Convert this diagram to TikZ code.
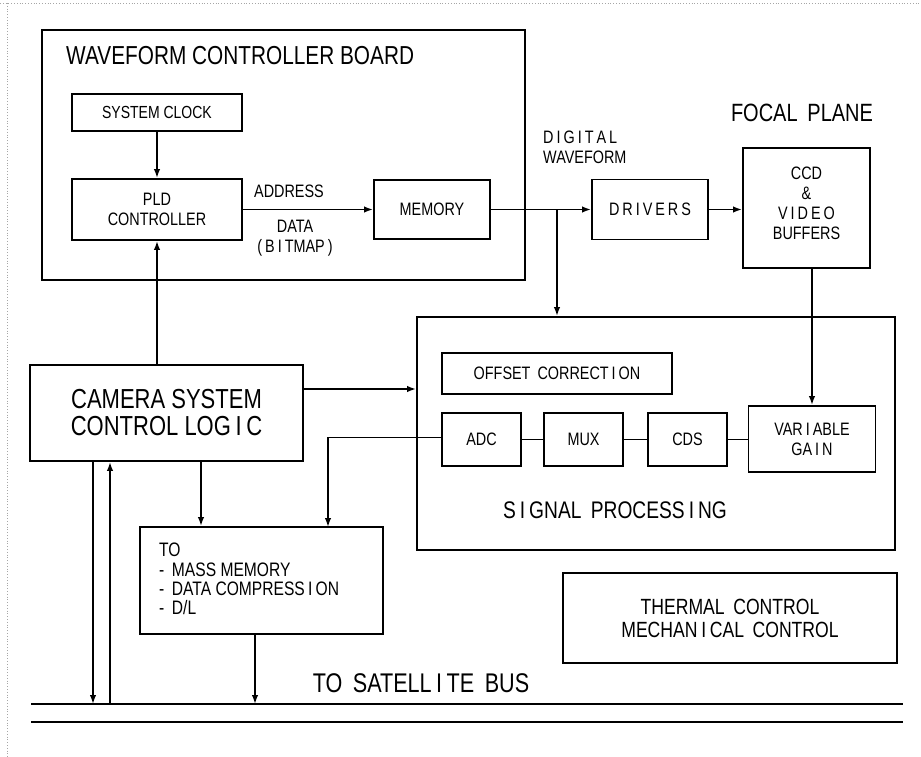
\documentclass[tikz,border=0pt]{standalone}
\usepackage{fontspec}
\setmainfont{Liberation Sans}[FakeStretch=0.8]
\usetikzlibrary{arrows.meta}
\begin{document}
\begin{tikzpicture}[x=1pt,y=-1pt,
  box/.style={draw, line width=1.9pt, inner sep=0pt, align=center, font=\fontsize{18}{20}\selectfont},
  lbl/.style={inner sep=0pt, font=\fontsize{18}{20}\selectfont},
  conn/.style={line width=1.7pt},
  arr/.style={conn, -{Latex[length=9pt,width=6.5pt]}},
  frame/.style={gray!70, dotted, line width=0.8pt}]
\useasboundingbox (0,0) rectangle (921,757);
% scan frame
\draw[frame] (0,3) -- (921,3);
\draw[frame] (7,3) -- (7,757);

% waveform controller board
\node[box, minimum width=483pt, minimum height=250pt] (board) at (283.5,155) {};
\node[lbl, anchor=west, font=\fontsize{26}{28}\selectfont] (boardt) at (66,56) {WAVEFORM CONTROLLER BOARD};
\node[box, minimum width=170pt, minimum height=37pt, font=\fontsize{17.5}{19}\selectfont] (clock) at (157,112.5) {SYSTEM CLOCK};
\node[box, minimum width=170pt, minimum height=61pt] (pld) at (157,209.5) {PLD\\CONTROLLER};
\node[box, minimum width=116pt, minimum height=59pt] (mem) at (432,209.5) {MEMORY};
\node[lbl] (addr) at (289,191) {ADDRESS};
\node[lbl, align=center] (data) at (295,238) {DATA\\(\,B\,I\,TMAP\,)};

% drivers, focal plane
\node[box, minimum width=116pt, minimum height=60pt] (drv) at (650,209.5) {D\,R\,I\,V\,E\,R\,S};
\node[lbl, align=left, anchor=west] (dig) at (543,147) {D\,I\,G\,I\,T\,A\,L\\WAVEFORM};
\node[box, minimum width=127pt, minimum height=120pt] (ccd) at (806.5,208) {CCD\\\&\\V\,I\,D\,E\,O\\BUFFERS\\[-10pt]};
\node[lbl, font=\fontsize{25}{27}\selectfont] (focal) at (802,113) {FOCAL\, PLANE};

% signal processing
\node[box, minimum width=478pt, minimum height=233pt] (sig) at (656,433.5) {};
\node[lbl, font=\fontsize{24}{26}\selectfont] (sigt) at (615,510) {S\,I\,GNAL\, PROCESS\,I\,NG};
\node[box, minimum width=230pt, minimum height=41pt] (off) at (557,373.5) {OFFSET\, CORRECT\,I\,ON};
\node[box, minimum width=79pt, minimum height=53pt] (adc) at (481.5,439.5) {ADC};
\node[box, minimum width=79pt, minimum height=53pt] (mux) at (583.5,439.5) {MUX};
\node[box, minimum width=79pt, minimum height=53pt] (cds) at (687.5,439.5) {CDS};
\node[box, minimum width=127pt, minimum height=66pt] (vg) at (812,439) {VAR\,I\,ABLE\\GA\,I\,N};

% camera control, to box, thermal
\node[box, minimum width=273pt, minimum height=96pt, font=\fontsize{27.5}{27}\selectfont] (cam) at (166.5,413) {CAMERA SYSTEM\\CONTROL LOG\,I\,C};
\node[box, minimum width=243pt, minimum height=107pt] (to) at (261.5,580.5) {};
\node[lbl, align=left, anchor=north west, font=\fontsize{19.5}{19.3}\selectfont] (tot) at (159,543) {TO\\- \,MASS MEMORY\\- \,DATA COMPRESS\,I\,ON\\- \,D/L};
\node[box, minimum width=334pt, minimum height=90pt, font=\fontsize{22}{23}\selectfont] (th) at (730,618) {THERMAL\, CONTROL\\MECHAN\,I\,CAL\, CONTROL};

% satellite bus
\coordinate (busA) at (31,704);
\coordinate (busB) at (903,704);
\coordinate (busC) at (31,722);
\coordinate (busD) at (903,722);
\draw[conn, line width=2pt] (busA) -- (busB);
\draw[conn, line width=2pt] (busC) -- (busD);
\node[lbl, font=\fontsize{27}{29}\selectfont] (bust) at (421,683) {TO\, SATELL\,I\,TE\, BUS};

% connectors
\draw[arr] (clock.south) -- (pld.north);
\draw[arr] (pld.east) -- (pld.east -| mem.west);
\draw[arr] (pld.south |- cam.north) -- (pld.south);
\draw[arr] (mem.east) -- (mem.east -| drv.west);
\coordinate (br) at (557,209.5);
\draw[arr] (br) -- (br |- sig.north);
\draw[arr] (drv.east) -- (drv.east -| ccd.west);
\draw[arr] (vg.north |- ccd.south) -- (vg.north);
\draw[arr] ([yshift=24pt]cam.east) -- ([yshift=24pt]cam.east -| sig.west);
\draw[conn] (adc.east) -- (mux.west);
\draw[conn] (mux.east) -- (cds.west);
\draw[conn] (cds.east) -- (cds.east -| vg.west);
\coordinate (tin) at (328,527);
\draw[arr] ([yshift=2pt]adc.west) -| (tin);
\draw[arr] ([xshift=34.5pt]cam.south) -- ([xshift=34.5pt]cam.south |- to.north);
\draw[arr] ([xshift=-6.5pt]to.south) -- ([xshift=-6.5pt]to.south |- busA);
\draw[arr] ([xshift=-73.5pt]cam.south) -- ([xshift=-73.5pt]cam.south |- busA);
\draw[arr] ([xshift=-56.5pt]cam.south |- busA) -- ([xshift=-56.5pt]cam.south);
\end{tikzpicture}
\end{document}
